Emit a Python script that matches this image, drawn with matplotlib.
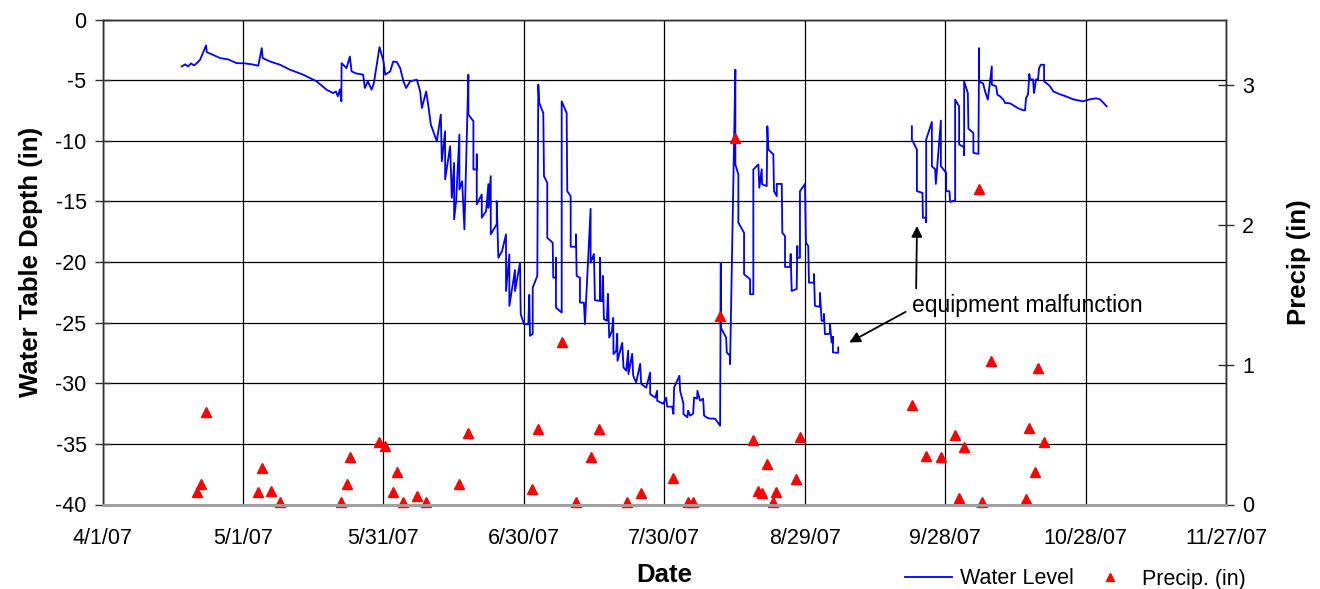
# Water table depth and precipitation, Apr-Nov 2007
import numpy as np
import pandas as pd
import matplotlib
matplotlib.use("Agg")
import matplotlib.pyplot as plt
import matplotlib.dates as mdates
from matplotlib.ticker import FuncFormatter
from matplotlib.lines import Line2D

plt.rcParams.update({
    "font.family": "Liberation Sans",
    "font.size": 15.5,
    "axes.unicode_minus": False,
})

# ---------------------------------------------------------------
# Data (days since 4/1/07)
# ---------------------------------------------------------------
start_date = pd.Timestamp("2007-04-01")

# water level, first logger segment (4/18 - 9/5)
wl_days_a = [
    16.94, 17.64, 18.28, 18.92, 19.56, 20.14, 20.84, 22.12, 22.27, 23.40, 25.11, 26.82,
    28.67, 30.44, 31.94, 33.28, 34.01, 34.22, 35.78, 37.91, 40.04, 42.88, 45.74, 47.87,
    49.28, 49.86, 50.28, 50.71, 51.03, 51.07, 52.14, 52.84, 53.21, 54.12, 55.68, 56.04,
    56.68, 57.47, 57.96, 59.17, 60.03, 60.39, 61.46, 62.10, 62.89, 63.59, 64.29, 64.87,
    65.72, 67.15, 67.86, 68.22, 69.14, 69.56, 70.14, 71.42, 72.27, 72.49, 73.19, 73.19,
    74.26, 74.62, 75.11, 75.11, 75.54, 76.24, 76.24, 76.82, 77.31, 78.16, 78.16, 79.23,
    79.23, 79.95, 79.95, 79.95, 81.02, 81.02, 81.94, 82.43, 82.43, 82.94, 82.94, 84.22,
    84.22, 84.56, 85.35, 86.20, 86.20, 86.91, 86.91, 88.12, 88.12, 89.19, 89.34, 90.04,
    90.96, 91.17, 91.32, 91.90, 91.90, 92.88, 93.09, 93.31, 94.16, 94.31, 95.01, 95.01,
    96.17, 96.29, 96.87, 96.87, 96.87, 98.09, 98.09, 99.15, 99.28, 100.01, 100.01, 101.14,
    101.14, 101.29, 101.99, 101.99, 102.84, 103.06, 104.27, 104.27, 104.98, 105.19, 106.26, 106.26,
    106.47, 106.90, 106.90, 107.11, 107.75, 107.96, 108.24, 108.82, 109.10, 109.16, 109.74, 109.95,
    110.02, 111.02, 111.30, 111.87, 112.30, 112.36, 113.15, 113.37, 114.01, 114.86, 115.07, 116.14,
    116.99, 116.99, 118.06, 118.49, 118.49, 119.77, 120.41, 120.62, 121.69, 121.96, 122.11, 123.24,
    123.39, 124.10, 124.10, 124.95, 125.10, 125.53, 126.17, 126.38, 127.02, 127.08, 127.66, 128.30,
    128.51, 129.15, 129.79, 130.43, 130.86, 131.93, 132.08, 132.08, 133.21, 133.36, 134.06, 134.06,
    135.19, 135.19, 135.83, 135.83, 137.05, 137.05, 138.33, 138.33, 139.03, 139.03, 140.10, 140.31,
    140.82, 140.89, 141.89, 142.02, 142.24, 143.30, 143.45, 144.03, 144.03, 145.10, 145.22, 145.80,
    145.80, 146.86, 147.01, 147.22, 148.29, 148.42, 148.42, 148.99, 148.99, 150.06, 150.27, 150.76,
    150.91, 151.98, 151.98, 152.19, 153.26, 153.26, 153.62, 154.11, 154.11, 154.33, 155.39, 155.39,
    155.75, 156.03, 156.03, 156.03, 157.16, 157.16,
]
wl_depth_a = [
    -3.87, -3.70, -3.87, -3.62, -3.79, -3.60, -3.32, -2.14, -2.69, -2.88, -3.18, -3.29,
    -3.60, -3.62, -3.70, -3.81, -2.36, -3.18, -3.46, -3.73, -4.14, -4.55, -5.10, -5.79,
    -6.07, -5.93, -6.34, -5.76, -6.75, -3.60, -4.01, -3.05, -4.28, -4.44, -4.55, -5.65,
    -5.10, -5.79, -5.27, -2.28, -3.46, -4.55, -4.28, -3.46, -3.51, -4.01, -5.10, -5.65,
    -5.10, -4.96, -5.93, -7.30, -5.93, -7.00, -8.67, -10.04, -7.84, -11.69, -9.22, -13.19,
    -10.45, -14.71, -11.83, -16.48, -14.98, -9.49, -14.02, -13.33, -17.31, -4.55, -7.84, -8.39,
    -12.37, -12.37, -11.13, -15.25, -14.43, -16.35, -15.80, -13.58, -15.53, -12.92, -17.72, -16.87,
    -14.98, -19.65, -19.09, -17.72, -22.39, -19.37, -23.62, -20.66, -22.39, -20.06, -24.30, -25.13,
    -25.13, -22.71, -26.09, -25.92, -22.11, -21.15, -5.37, -6.89, -7.71, -12.92, -13.47, -18.00,
    -18.41, -21.29, -21.29, -19.65, -23.76, -24.17, -6.75, -7.71, -14.16, -14.57, -18.74, -18.74,
    -17.72, -21.15, -21.29, -23.35, -23.35, -25.13, -15.61, -20.06, -19.34, -23.15, -23.21, -19.65,
    -23.21, -23.21, -21.15, -24.71, -24.85, -22.63, -26.23, -25.68, -24.61, -27.60, -27.32, -25.92,
    -28.15, -26.67, -28.70, -28.97, -27.32, -29.24, -27.57, -29.38, -29.93, -28.39, -30.04, -30.37,
    -29.11, -30.89, -31.19, -30.62, -31.44, -31.69, -31.19, -31.93, -31.93, -32.53, -30.34, -29.38,
    -30.62, -31.69, -32.53, -32.81, -32.26, -32.67, -32.51, -31.17, -31.27, -30.62, -31.44, -31.27,
    -32.67, -32.84, -32.92, -32.92, -32.92, -33.50, -20.06, -25.41, -26.23, -27.46, -27.74, -28.42,
    -4.14, -11.96, -12.78, -16.76, -17.59, -21.01, -21.42, -22.66, -22.66, -12.37, -11.96, -13.88,
    -12.35, -13.58, -13.74, -8.81, -10.72, -11.13, -14.16, -14.57, -13.56, -13.56, -17.59, -17.86,
    -20.41, -20.41, -19.34, -22.39, -22.22, -18.68, -19.65, -19.65, -14.16, -13.56, -18.41, -18.68,
    -21.70, -21.70, -20.99, -23.62, -23.70, -22.55, -24.85, -24.85, -24.28, -25.95, -25.92, -25.10,
    -26.64, -26.64, -26.17, -27.46, -27.49, -27.05,
]

# water level, second logger segment (9/20 - 10/31)
wl_days_b = [
    172.90, 172.90, 173.97, 173.97, 175.16, 175.25, 175.95, 175.95, 175.95, 177.17, 177.17, 177.87,
    178.02, 179.09, 179.09, 180.22, 180.22, 180.92, 181.07, 182.14, 182.14, 182.99, 182.99, 184.06,
    184.06, 184.06, 184.85, 184.98, 186.04, 186.04, 187.11, 187.26, 187.26, 188.11, 188.54, 189.11,
    189.39, 189.97, 189.97, 190.89, 191.16, 191.74, 192.44, 192.81, 193.87, 194.94, 195.58, 196.71,
    197.07, 197.29, 197.71, 197.99, 198.14, 198.78, 198.99, 199.42, 199.85, 200.06, 200.42, 201.13,
    201.13, 201.98, 202.41, 203.11, 204.54, 205.82, 207.31, 209.45, 210.94, 212.22, 213.07, 213.71,
    214.50,
]
wl_depth_b = [
    -8.81, -9.90, -10.72, -14.16, -14.30, -16.35, -16.35, -16.71, -9.90, -8.45, -12.10, -12.35,
    -13.56, -8.34, -12.10, -12.65, -14.16, -14.16, -15.04, -14.92, -6.61, -7.16, -10.31, -10.53,
    -11.19, -5.10, -6.07, -9.00, -9.36, -11.00, -11.09, -2.36, -5.10, -5.27, -5.93, -6.61,
    -5.76, -3.87, -5.37, -5.51, -6.20, -6.34, -6.61, -6.89, -6.91, -7.16, -7.32, -7.49,
    -7.49, -6.48, -6.17, -4.50, -4.94, -4.94, -6.07, -4.94, -4.94, -4.03, -3.73, -3.73,
    -5.10, -5.35, -5.51, -5.93, -6.17, -6.34, -6.58, -6.75, -6.58, -6.50, -6.58, -6.83,
    -7.16,
]

# daily precipitation (in)
precip_days = [
    20.20, 21.06, 22.12, 33.22, 34.07, 35.99, 37.91, 50.92, 52.20, 52.84, 59.11, 60.39,
    62.10, 62.95, 64.23, 67.22, 69.14, 76.18, 78.10, 91.75, 93.03, 98.15, 101.14, 104.34,
    106.04, 112.09, 115.07, 121.90, 125.10, 126.17, 131.93, 135.13, 138.97, 140.03, 140.89, 141.95,
    143.23, 143.87, 148.14, 148.99, 172.97, 175.95, 179.15, 182.14, 182.99, 184.06, 187.90, 189.82,
    187.26, 197.29, 197.93, 199.21, 199.85, 201.13,
]
precip_in = [
    0.09, 0.15, 0.66, 0.09, 0.26, 0.10, 0.02, 0.02, 0.15, 0.34, 0.45, 0.42,
    0.09, 0.23, 0.02, 0.06, 0.02, 0.15, 0.51, 0.11, 0.54, 1.16, 0.02, 0.34,
    0.54, 0.02, 0.08, 0.19, 0.02, 0.02, 1.35, 2.62, 0.46, 0.10, 0.08, 0.29,
    0.02, 0.09, 0.18, 0.48, 0.71, 0.35, 0.34, 0.50, 0.05, 0.41, 0.02, 1.03,
    2.26, 0.04, 0.55, 0.23, 0.98, 0.45,
]

tick_days = [0, 30, 60, 90, 120, 150, 180, 210, 240]
depth_ticks = [0, -5, -10, -15, -20, -25, -30, -35, -40]
precip_ticks = [0, 1, 2, 3]

# ---------------------------------------------------------------
# Build series
# ---------------------------------------------------------------
def to_dates(d):
    return start_date + pd.to_timedelta(np.asarray(d, dtype=float), unit="D")

wl_x = list(to_dates(wl_days_a)) + [to_dates([165.0])[0]] + list(to_dates(wl_days_b))
wl_y = wl_depth_a + [np.nan] + wl_depth_b
pr_x = to_dates(precip_days)
ticks_x = to_dates(tick_days)

def date_label(v, pos):
    d = mdates.num2date(v)
    return f"{d.month}/{d.day}/{d.strftime('%y')}"

# ---------------------------------------------------------------
# Plot
# ---------------------------------------------------------------
fig = plt.figure(figsize=(13.2, 5.89), dpi=100)
ax = fig.add_axes([102.5 / 1320, 84.5 / 589, 1123.5 / 1320, 485 / 589])
ax2 = ax.twinx()

ax.plot(wl_x, wl_y, color="#0000ff", linewidth=1.3)
ax2.plot(pr_x, precip_in, linestyle="none", marker="^", color="#ff0000",
         markersize=7, clip_on=False)

ax.set_xlim(ticks_x[0], ticks_x[-1])
ax.set_ylim(-40, 0)
ax2.set_ylim(0, 3.47)

ax.set_xticks(ticks_x)
ax.xaxis.set_major_formatter(FuncFormatter(date_label))
ax.set_yticks(depth_ticks)
ax2.set_yticks(precip_ticks)

ax.grid(True, color="#000000", linewidth=0.9)
ax.set_axisbelow(True)
for a in (ax, ax2):
    for s in a.spines.values():
        s.set_color("#303030")
        s.set_linewidth(1.0)
    a.spines["bottom"].set_color("#a0a0a0")
    a.spines["bottom"].set_linewidth(2.0)
ax.tick_params(axis="x", length=0, pad=17, labelsize=15.5)
ax.tick_params(axis="y", direction="inout", length=11, width=1, color="#303030",
               pad=6, labelsize=15.5)
ax2.tick_params(axis="y", direction="inout", length=11, width=1, color="#303030",
                pad=6, labelsize=15.5)

ax.set_xlabel("Date", fontsize=18.5, fontweight="bold", labelpad=10)
ax.set_ylabel("Water Table Depth (in)", fontsize=18.5, fontweight="bold", labelpad=9)
ax2.set_ylabel("Precip (in)", fontsize=18.5, fontweight="bold", labelpad=24)

# annotation for the logger gap
arrow = dict(arrowstyle="-|>", color="black", lw=1.3, mutation_scale=16)
ax.annotate("", xy=(to_dates([174.0])[0], -16.8), xytext=(to_dates([173.8])[0], -22.4),
            arrowprops=arrow)
ax.annotate("", xy=(to_dates([159.0])[0], -26.75), xytext=(to_dates([172.1])[0], -24.0),
            arrowprops=arrow)
ax.text(to_dates([173.0])[0], -23.6, "equipment malfunction", fontsize=16.5,
        ha="left", va="center")

handles = [
    Line2D([], [], color="#0000ff", linewidth=1.3),
    Line2D([], [], linestyle="none", marker="^", color="#ff0000", markersize=6),
]
fig.legend(handles, ["Water Level", "Precip. (in)"], loc="center left",
           bbox_to_anchor=(905 / 1320, 1 - 579 / 589), ncol=2, frameon=False,
           fontsize=15.5, handlelength=2.2, columnspacing=0.6, handletextpad=0.35,
           borderpad=0, borderaxespad=0)

fig.savefig("out.png", dpi=100)
